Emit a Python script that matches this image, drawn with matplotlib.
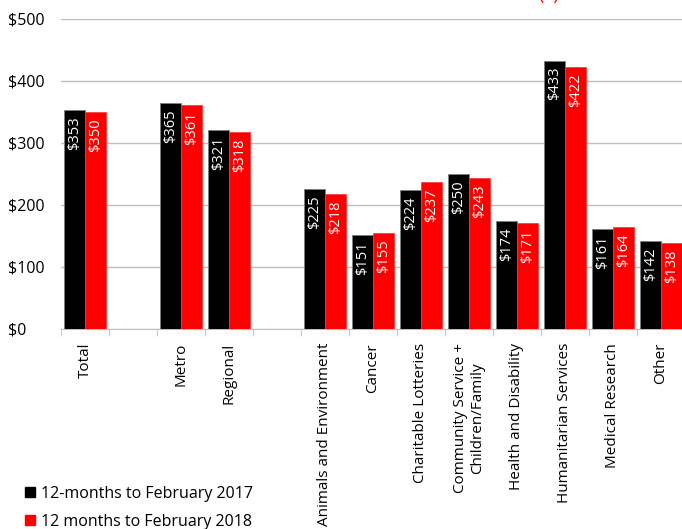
import numpy as np
import matplotlib.pyplot as plt
from matplotlib.lines import Line2D

plt.rcParams['font.family'] = ['Open Sans', 'DejaVu Sans']

categories = ['Total', 'Metro', 'Regional', 'Animals and Environment', 'Cancer',
              'Charitable Lotteries', 'Community Service +\nChildren/Family',
              'Health and Disability', 'Humanitarian Services', 'Medical Research',
              'Other']
slots = [0, 2, 3, 5, 6, 7, 8, 9, 10, 11, 12]   # empty slots separate the groups
avg_2017 = [353, 365, 321, 225, 151, 224, 250, 174, 433, 161, 142]
avg_2018 = [350, 361, 318, 218, 155, 237, 243, 171, 422, 164, 138]
series_names = ['12-months to February 2017', '12 months to February 2018']
y_ticks = [0, 100, 200, 300, 400, 500]

fig = plt.figure(figsize=(6.82, 5.29), dpi=100)
ax = fig.add_axes([61 / 682, 200 / 529, 624 / 682, 310 / 529])

x = np.array(slots, dtype=float)
w = 0.44
b1 = ax.bar(x - w / 2, avg_2017, w, color='black', edgecolor='#808080', linewidth=0.7, zorder=3)
b2 = ax.bar(x + w / 2, avg_2018, w, color='#ff0000', edgecolor='#ff3030', linewidth=0.5, zorder=3)

for bars, vals in ((b1, avg_2017), (b2, avg_2018)):
    for bar, v in zip(bars, vals):
        ax.text(bar.get_x() + bar.get_width() / 2, v - 10, f'${v}', rotation=90,
                ha='center', va='top', color='white', fontsize=10.5, zorder=4)

ax.set_xlim(-0.5, 12.5)
ax.set_ylim(0, 500)
ax.set_yticks(y_ticks)
ax.set_yticklabels([f'${t}' for t in y_ticks])
ax.yaxis.grid(True, color='#bfbfbf', linewidth=1)
ax.set_axisbelow(True)

ax.set_xticks(slots)
ax.set_xticklabels(categories, rotation=90, va='top', ha='center', fontsize=11,
                   multialignment='center')
ax.set_xticks(np.arange(-0.5, 13, 1), minor=True)
ax.tick_params(axis='x', which='major', length=0, pad=10)
ax.tick_params(axis='x', which='minor', length=5, color='#bfbfbf')
ax.tick_params(axis='y', length=0, labelsize=11.5, pad=38)
for lbl in ax.get_yticklabels():
    lbl.set_horizontalalignment('left')

for side in ('left', 'right', 'top'):
    ax.spines[side].set_visible(False)
ax.spines['bottom'].set_color('#bfbfbf')

handles = [Line2D([], [], marker='s', color=c, linestyle='none', markersize=7)
           for c in ('black', '#ff0000')]
fig.legend(handles, series_names, loc='upper left', bbox_to_anchor=(12 / 682, 1 - 478 / 529),
           frameon=False, fontsize=11.5, handletextpad=0.1, labelspacing=0.75,
           handlelength=1.2, borderpad=0)

fig.text(549 / 682, 1.0, '(a)', color='#ff0000', ha='center', va='baseline', fontsize=13)

fig.savefig('out.png', dpi=100)
